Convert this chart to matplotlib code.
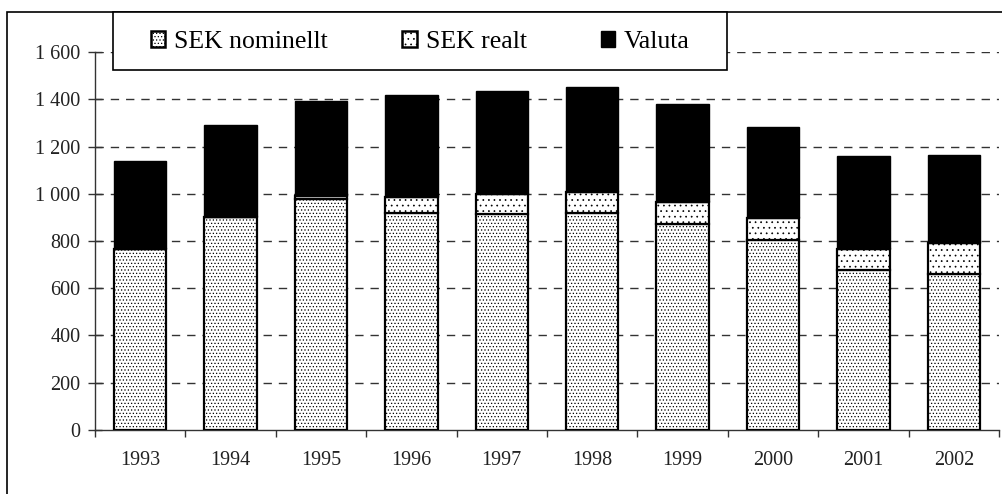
import matplotlib
matplotlib.use("Agg")
import matplotlib.pyplot as plt
from matplotlib.patches import Rectangle, Patch
from matplotlib.ticker import FuncFormatter, FixedLocator
import numpy as np

years = ["1993", "1994", "1995", "1996", "1997", "1998", "1999", "2000", "2001", "2002"]
sek_nominellt = [765, 900, 979, 918, 915, 921, 873, 803, 676, 662]
sek_realt = [0, 0, 11, 68, 85, 87, 94, 96, 92, 130]
valuta = [373, 393, 402, 431, 438, 447, 412, 385, 394, 373]
series_names = ["SEK nominellt", "SEK realt", "Valuta"]
y_ticks = [0, 200, 400, 600, 800, 1000, 1200, 1400, 1600]

plt.rcParams['font.family'] = ['Liberation Serif', 'DejaVu Serif']
plt.rcParams['hatch.linewidth'] = 0.5

W, H = 1003, 494
fig = plt.figure(figsize=(W / 100, H / 100), dpi=100)
ax = fig.add_axes([95 / W, 1 - 429.8 / H, (999 - 95) / W, (429.8 - 52.3) / H])

x = np.arange(len(years))
nom = np.array(sek_nominellt)
real = np.array(sek_realt)
val = np.array(valuta)
bw = 0.58

ax.bar(x, nom, bw, color="white", edgecolor="black", hatch=".....", linewidth=1.6, zorder=3)
ax.bar(x, real, bw, bottom=nom, color="white", edgecolor="black", hatch="...", linewidth=1.6, zorder=3)
ax.bar(x, val, bw, bottom=nom + real, color="black", edgecolor="black", linewidth=1.0, zorder=3)

ax.set_xlim(-0.5, len(years) - 0.5)
ax.set_ylim(0, 1600)
ax.set_yticks(y_ticks)
ax.yaxis.set_major_formatter(FuncFormatter(lambda v, p: f"{int(v):,}".replace(",", " ")))
ax.set_xticks(x)
ax.set_xticklabels(years)
ax.xaxis.set_minor_locator(FixedLocator(np.arange(-0.5, len(years), 1.0)))

for s in ["top", "right"]:
    ax.spines[s].set_visible(False)
ax.spines["left"].set_color("#333333")
ax.spines["bottom"].set_color("#333333")
ax.spines["left"].set_linewidth(1.0)
ax.spines["bottom"].set_linewidth(1.0)

ax.tick_params(axis="y", which="major", direction="inout", length=10, width=1, colors="#333333",
               labelsize=14.5, labelcolor="#222222", pad=5.5)
ax.tick_params(axis="x", which="major", length=0, labelsize=14.5, labelcolor="#222222", pad=15)
ax.tick_params(axis="x", which="minor", direction="out", length=5, width=1, colors="#333333")

for yv in y_ticks[1:]:
    ax.axhline(yv, color="#333333", linestyle=(0, (6, 5)), linewidth=1.0, zorder=1)

# outer chart border
fig.patches.append(Rectangle((7.5 / W, -0.1), 1.2, 1.1 - 12 / H, transform=fig.transFigure,
                             facecolor="none", edgecolor="black", linewidth=1.2, zorder=0))
# legend box
fig.patches.append(Rectangle((113 / W, 1 - 70 / H), (727 - 113) / W, 58 / H, transform=fig.transFigure,
                             facecolor="white", edgecolor="black", linewidth=1.2, zorder=5))

handles = [Patch(facecolor="white", edgecolor="black", hatch=".....", linewidth=1.8),
           Patch(facecolor="white", edgecolor="black", hatch="...", linewidth=1.8),
           Patch(facecolor="black", edgecolor="black", linewidth=1.0)]
leg = fig.legend(handles, series_names, loc="center left", bbox_to_anchor=(151 / W, 1 - 42 / H),
                 ncol=3, frameon=False, fontsize=18.5, handlelength=0.55, handleheight=0.55,
                 handletextpad=0.35, columnspacing=2.9, borderpad=0, borderaxespad=0)
leg.set_zorder(6)

fig.savefig("out.png", dpi=100)
